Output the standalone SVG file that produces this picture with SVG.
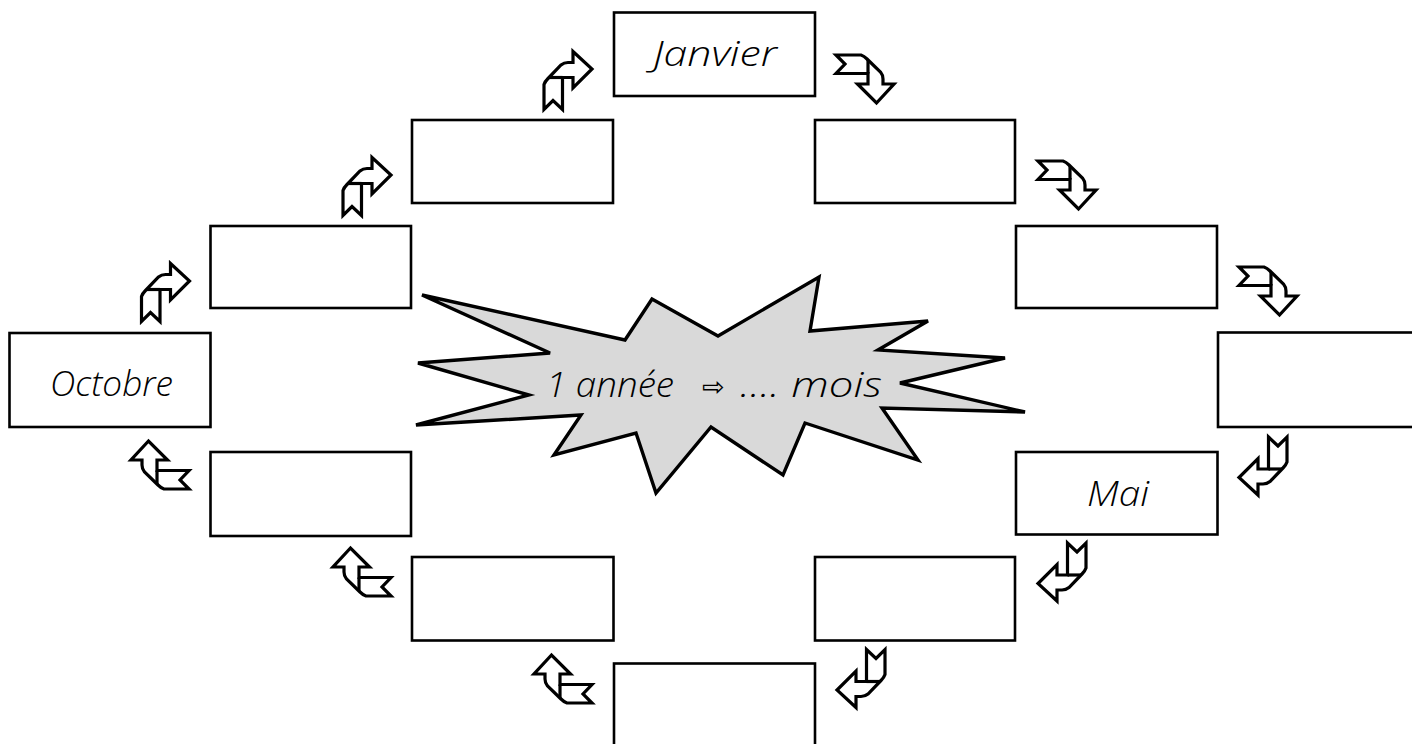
<svg xmlns="http://www.w3.org/2000/svg" xmlns:xlink="http://www.w3.org/1999/xlink" width="1412" height="744" viewBox="0 0 1412 744">
  <style>
    .box { fill: #ffffff; stroke: #000000; stroke-width: 2.6; }
    .lbl { font-family: "Open Sans", "Liberation Sans", sans-serif; font-style: italic; font-weight: 300; font-size: 34px; fill: #000000; }
    .arr { fill: #ffffff; stroke: #000000; stroke-width: 3.2; stroke-linejoin: miter; }
    .fold { fill: none; stroke: #000000; stroke-width: 3.2; }
    .star { fill: #d9d9d9; stroke: #000000; stroke-width: 3.4; stroke-linejoin: miter; }
  </style>
  <defs>
    <g id="ribbon">
      <path class="arr" d="M -24,29 L -24,4 Q -23,1 -20,-2 L -7,-15.5 Q -4,-18 0,-18 L 5,-18 L 5,-29 L 24,-11.5 L 5,7.5 L 5,-3 L -5.5,-3 L -5.5,29 L -15,20 Z"/>
      <path class="fold" d="M -19,-3 L -5.5,-3"/>
    </g>
  </defs>
  <rect x="0" y="0" width="1412" height="744" fill="#ffffff"/>

  <g id="star">
    <polygon class="star" points="422,295 625,340 652,299 718,336 819,277 810,331 928,321 878,350 1005,358 900,383 1025,412 882,408 918,460 805,423 783,475 711,427 656,493 636,433 554,455 581,415 416,425 529,395 418,363 550,353"/>
    <text class="lbl" x="546" y="397" textLength="128" lengthAdjust="spacingAndGlyphs">1 année</text>
    <text x="702" y="396" font-family="DejaVu Sans, sans-serif" font-size="27" fill="#000000">⇨</text>
    <text class="lbl" x="740" y="397" textLength="142" lengthAdjust="spacingAndGlyphs">.... mois</text>
  </g>

  <g id="janvier">
    <rect class="box" x="614" y="12.5" width="201" height="83.5"/>
    <text class="lbl" x="653" y="66" textLength="124" lengthAdjust="spacingAndGlyphs">Janvier</text>
  </g>
  <g id="box-l2"><rect class="box" x="412" y="120" width="201" height="83"/></g>
  <g id="box-r2"><rect class="box" x="815" y="120" width="200" height="83"/></g>
  <g id="box-l3"><rect class="box" x="210.5" y="226" width="200.5" height="82"/></g>
  <g id="box-r3"><rect class="box" x="1016" y="226" width="201" height="82"/></g>
  <g id="octobre">
    <rect class="box" x="9.5" y="333" width="201" height="94"/>
    <text class="lbl" x="50" y="396" textLength="123" lengthAdjust="spacingAndGlyphs">Octobre</text>
  </g>
  <g id="box-r4"><rect class="box" x="1218" y="332.5" width="210" height="94.5"/></g>
  <g id="box-l5"><rect class="box" x="210.5" y="452" width="200.5" height="84"/></g>
  <g id="mai">
    <rect class="box" x="1016" y="452" width="201.5" height="82.5"/>
    <text class="lbl" x="1087" y="506" textLength="62" lengthAdjust="spacingAndGlyphs">Mai</text>
  </g>
  <g id="box-l6"><rect class="box" x="412" y="557" width="201.5" height="83.5"/></g>
  <g id="box-r6"><rect class="box" x="815" y="557" width="200" height="83.5"/></g>
  <g id="box-bottom"><rect class="box" x="614" y="663.5" width="201" height="100"/></g>

  <g id="connectors">
    <use xlink:href="#ribbon" transform="translate(568,80.5)"/>
    <use xlink:href="#ribbon" transform="translate(367,186.5)"/>
    <use xlink:href="#ribbon" transform="translate(165.5,292.5)"/>
    <use xlink:href="#ribbon" transform="translate(865,79) rotate(90)"/>
    <use xlink:href="#ribbon" transform="translate(1067,185) rotate(90)"/>
    <use xlink:href="#ribbon" transform="translate(1268,291) rotate(90)"/>
    <use xlink:href="#ribbon" transform="translate(1263,466) rotate(180)"/>
    <use xlink:href="#ribbon" transform="translate(1062,572) rotate(180)"/>
    <use xlink:href="#ribbon" transform="translate(861,678.5) rotate(180)"/>
    <use xlink:href="#ribbon" transform="translate(160,465) rotate(270)"/>
    <use xlink:href="#ribbon" transform="translate(362,572) rotate(270)"/>
    <use xlink:href="#ribbon" transform="translate(563,679) rotate(270)"/>
  </g>
</svg>
